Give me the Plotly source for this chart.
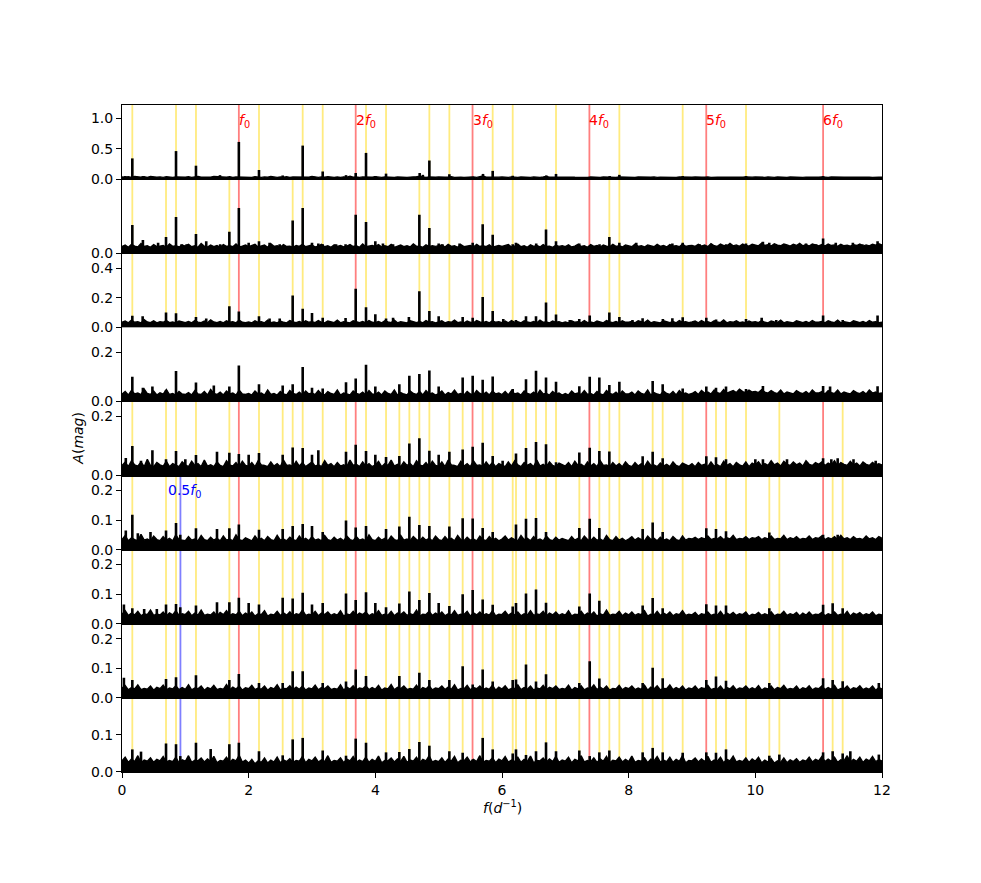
# amplitude spectra of 9 data segments, with the pulsation frequency f0, its harmonics
# and the combination frequencies marked as vertical lines

import numpy as np
import plotly.graph_objects as go
from plotly.subplots import make_subplots

# frequencies in d^-1
f0 = 1.845
harmonics = [1, 2, 3, 4, 5, 6]
harmonic_labels = ["<i>f</i><sub>0</sub>", "2<i>f</i><sub>0</sub>", "3<i>f</i><sub>0</sub>",
                   "4<i>f</i><sub>0</sub>", "5<i>f</i><sub>0</sub>", "6<i>f</i><sub>0</sub>"]
half_f0_panels = [6, 7, 8, 9]

# combination frequencies (yellow lines), panels share groups
yellow_a = [0.163, 0.853, 1.168, 2.163, 2.853, 3.169, 3.853, 4.169, 4.853, 5.169,
            5.853, 6.169, 6.853, 7.853, 8.853, 9.853]
yellow_b = [0.695, 1.695, 2.695, 4.695, 5.695, 6.695, 7.695]
yellow_c = [2.537, 3.537, 4.379, 4.537, 5.379, 6.379, 6.537, 7.537, 8.379, 8.537,
            9.379, 9.537, 10.379, 11.379]
yellow_d = [6.221, 7.221, 8.221, 10.221, 11.221]
panel_yellow = {
    1: yellow_a,
    2: yellow_a + yellow_b,
    3: yellow_a + yellow_b,
    4: yellow_a + yellow_b + yellow_c,
    5: yellow_a + yellow_b + yellow_c,
    6: yellow_a + yellow_b + yellow_c + yellow_d,
    7: yellow_a + yellow_b + yellow_c + yellow_d,
    8: yellow_a + yellow_b + yellow_c + yellow_d,
    9: yellow_a + yellow_b + yellow_c + yellow_d,
}

# y axis limits / tick values per panel (mag)
y_top = [1.216, 0.5, 0.5, 0.30, 0.25, 0.25, 0.25, 0.25, 0.20]
y_ticks = [[0, 0.5, 1.0], [0], [0, 0.2, 0.4], [0, 0.2], [0, 0.2],
           [0, 0.1, 0.2], [0, 0.1, 0.2], [0, 0.1, 0.2], [0, 0.1]]

# noise floor of each spectrum in mmag, read every 0.05 d^-1 from 0 to 12
noise_1 = [35, 30, 40, 28, 45, 32, 30, 38, 27, 42, 33, 30, 36, 28, 40, 31, 29, 37, 33, 30,
           30, 38, 28, 35, 42, 30, 27, 36, 31, 45, 40, 28, 33, 30, 38, 29, 35, 32, 28, 36,
           33, 29, 40, 31, 28, 36, 30, 42, 32, 28, 35, 30, 38, 27, 34, 31, 29, 37, 33, 30,
           45, 31, 28, 36, 30, 40, 32, 29, 35, 28, 37, 31, 46, 30, 34, 28, 36, 31, 29, 33,
           40, 30, 28, 35, 31, 38, 29, 34, 30, 36, 28, 33, 30, 38, 45, 32, 29, 35, 30, 31,
           36, 29, 33, 30, 38, 28, 35, 31, 29, 34, 30, 37, 28, 33, 50, 31, 29, 36, 30, 32,
           34, 30, 28, 36, 31, 29, 35, 30, 33, 28, 36, 31, 29, 34, 42, 30, 35, 28, 33, 30,
           35, 29, 33, 30, 28, 36, 31, 29, 34, 30, 33, 28, 35, 31, 38, 30, 29, 34, 31, 30,
           33, 30, 28, 35, 31, 29, 34, 30, 36, 28, 33, 31, 29, 35, 30, 28, 34, 31, 29, 33,
           31, 35, 29, 33, 30, 36, 28, 34, 31, 30, 35, 29, 33, 31, 28, 36, 30, 34, 29, 32,
           35, 30, 33, 29, 36, 31, 28, 34, 30, 33, 29, 35, 31, 30, 34, 28, 33, 30, 35, 29,
           33, 36, 30, 29, 35, 31, 28, 34, 30, 33, 29, 35, 30, 32, 28, 34, 31, 29, 35, 30, 30]
noise_2 = [45, 55, 40, 60, 48, 42, 65, 45, 50, 40, 58, 44, 48, 52, 40, 62, 46, 50, 42, 55,
           48, 60, 44, 50, 40, 66, 47, 42, 55, 45, 52, 40, 58, 46, 50, 44, 62, 42, 48, 55,
           44, 50, 60, 42, 48, 55, 40, 64, 46, 50, 42, 58, 45, 48, 40, 52, 46, 60, 44, 50,
           55, 42, 48, 60, 44, 50, 40, 56, 46, 52, 42, 48, 58, 45, 50, 40, 62, 44, 48, 52,
           46, 58, 42, 50, 44, 60, 40, 48, 55, 44, 50, 42, 62, 46, 48, 40, 56, 44, 50, 46,
           48, 55, 42, 60, 46, 50, 40, 58, 44, 48, 52, 42, 60, 45, 50, 44, 56, 40, 48, 52,
           46, 50, 58, 42, 48, 62, 44, 50, 40, 56, 46, 52, 42, 58, 45, 48, 40, 54, 46, 50,
           44, 56, 42, 48, 60, 45, 50, 40, 58, 46, 52, 42, 55, 48, 44, 60, 46, 50, 42, 56,
           48, 44, 62, 46, 50, 42, 56, 48, 44, 60, 46, 52, 42, 58, 48, 50, 44, 62, 46, 50,
           52, 46, 60, 48, 55, 44, 65, 50, 46, 62, 52, 48, 66, 50, 56, 46, 62, 52, 48, 60,
           55, 50, 68, 52, 58, 48, 64, 54, 50, 62, 56, 48, 60, 52, 66, 50, 58, 48, 62, 54,
           50, 58, 48, 62, 52, 56, 46, 60, 50, 54, 48, 58, 52, 62, 48, 56, 50, 60, 54, 64, 55]
noise_3 = [35, 42, 30, 48, 34, 38, 30, 52, 36, 32, 44, 30, 38, 34, 46, 32, 36, 30, 42, 35,
           32, 40, 30, 46, 35, 32, 42, 30, 50, 36, 32, 40, 30, 44, 34, 38, 30, 48, 34, 32,
           36, 30, 44, 34, 38, 30, 48, 32, 36, 30, 42, 34, 30, 46, 36, 32, 40, 30, 44, 34,
           38, 32, 46, 34, 30, 42, 36, 32, 48, 30, 38, 34, 30, 44, 36, 32, 40, 30, 46, 34,
           32, 40, 30, 44, 36, 32, 48, 30, 38, 34, 30, 44, 36, 32, 40, 30, 46, 34, 38, 30,
           36, 44, 30, 38, 34, 48, 32, 36, 30, 42, 34, 30, 46, 36, 32, 40, 30, 44, 34, 38,
           32, 42, 30, 46, 34, 38, 30, 44, 36, 32, 40, 30, 48, 34, 36, 30, 42, 34, 38, 30,
           36, 30, 44, 34, 38, 30, 46, 32, 36, 30, 42, 34, 30, 46, 36, 32, 40, 30, 44, 34,
           34, 40, 30, 44, 36, 32, 48, 30, 38, 34, 30, 44, 36, 32, 40, 30, 46, 34, 38, 32,
           36, 42, 30, 46, 34, 38, 30, 44, 36, 32, 50, 30, 38, 34, 44, 32, 36, 30, 42, 34,
           38, 32, 46, 34, 30, 42, 36, 32, 48, 30, 38, 34, 30, 44, 36, 32, 40, 30, 46, 34,
           34, 40, 30, 44, 36, 32, 48, 30, 38, 34, 30, 44, 36, 32, 40, 30, 46, 34, 38, 32, 34]
noise_4 = [30, 40, 26, 45, 30, 34, 28, 50, 32, 28, 42, 26, 35, 30, 48, 28, 32, 26, 40, 30,
           28, 36, 26, 44, 30, 28, 40, 26, 48, 32, 28, 38, 26, 42, 30, 34, 26, 46, 30, 28,
           32, 26, 42, 30, 34, 26, 46, 28, 32, 26, 40, 30, 26, 44, 32, 28, 38, 26, 42, 30,
           34, 28, 44, 30, 26, 40, 32, 28, 46, 26, 34, 30, 26, 42, 32, 28, 38, 26, 44, 30,
           28, 38, 26, 42, 32, 28, 46, 26, 36, 30, 26, 42, 32, 28, 40, 26, 44, 30, 34, 26,
           32, 42, 26, 36, 30, 46, 28, 32, 26, 40, 30, 26, 44, 32, 28, 38, 26, 42, 30, 34,
           28, 40, 26, 44, 30, 34, 26, 42, 32, 28, 38, 26, 46, 30, 32, 26, 40, 30, 34, 26,
           32, 26, 42, 30, 34, 28, 44, 28, 32, 26, 40, 30, 26, 44, 32, 28, 38, 26, 42, 30,
           30, 38, 26, 42, 32, 28, 46, 26, 36, 30, 26, 42, 32, 28, 40, 26, 44, 30, 34, 28,
           32, 40, 28, 44, 34, 38, 30, 46, 36, 32, 48, 34, 38, 44, 36, 50, 40, 36, 46, 38,
           40, 36, 48, 38, 34, 44, 36, 32, 46, 30, 38, 34, 30, 44, 36, 32, 40, 30, 46, 34,
           34, 40, 30, 44, 36, 32, 46, 30, 38, 34, 30, 44, 36, 32, 40, 30, 46, 34, 38, 32, 34]
noise_5 = [34, 45, 30, 50, 36, 32, 46, 30, 55, 34, 30, 44, 36, 32, 48, 30, 40, 34, 30, 46,
           36, 30, 48, 34, 40, 30, 52, 32, 36, 30, 46, 34, 30, 50, 36, 32, 44, 30, 48, 34,
           32, 44, 30, 50, 36, 34, 30, 46, 32, 40, 30, 52, 34, 36, 30, 48, 32, 44, 30, 38,
           46, 32, 36, 30, 50, 34, 40, 30, 44, 32, 36, 30, 52, 34, 38, 30, 46, 32, 40, 30,
           36, 48, 30, 40, 34, 52, 32, 38, 30, 46, 34, 40, 30, 50, 36, 32, 44, 30, 48, 34,
           32, 46, 30, 52, 36, 34, 30, 48, 32, 40, 30, 50, 34, 36, 30, 46, 32, 44, 30, 40,
           34, 30, 46, 32, 50, 36, 30, 44, 34, 40, 30, 52, 32, 38, 30, 46, 34, 30, 42, 36,
           32, 44, 30, 48, 34, 38, 30, 46, 32, 40, 30, 50, 34, 36, 30, 44, 32, 40, 30, 46,
           34, 30, 44, 32, 40, 30, 48, 34, 36, 30, 42, 32, 38, 30, 46, 34, 30, 42, 36, 32,
           40, 30, 44, 34, 38, 30, 46, 32, 36, 30, 48, 34, 40, 30, 44, 36, 32, 46, 30, 42,
           36, 46, 32, 40, 34, 50, 36, 42, 32, 48, 38, 34, 46, 36, 42, 32, 50, 38, 34, 44,
           38, 46, 34, 42, 36, 50, 32, 44, 38, 34, 48, 36, 42, 32, 46, 38, 34, 44, 36, 40, 36]
noise_6 = [34, 48, 30, 40, 34, 30, 52, 32, 36, 30, 46, 34, 30, 44, 32, 38, 30, 50, 34, 32,
           30, 44, 32, 36, 30, 48, 34, 30, 42, 32, 38, 30, 46, 32, 36, 30, 50, 34, 30, 40,
           34, 30, 46, 32, 38, 30, 44, 34, 30, 48, 32, 36, 30, 42, 34, 30, 46, 32, 38, 30,
           44, 32, 36, 30, 48, 34, 30, 42, 32, 38, 30, 46, 34, 30, 44, 32, 36, 30, 50, 34,
           30, 42, 32, 38, 30, 46, 34, 30, 48, 32, 36, 30, 44, 34, 30, 42, 32, 38, 30, 46,
           34, 30, 44, 32, 38, 30, 48, 34, 30, 42, 32, 36, 30, 46, 34, 30, 44, 32, 38, 30,
           36, 46, 32, 40, 34, 30, 48, 34, 38, 30, 44, 32, 36, 30, 46, 34, 30, 42, 32, 38,
           34, 30, 44, 32, 38, 30, 46, 34, 30, 42, 32, 36, 30, 48, 34, 30, 44, 32, 38, 30,
           36, 44, 32, 40, 34, 30, 46, 34, 38, 30, 42, 32, 36, 30, 44, 34, 30, 46, 32, 38,
           36, 42, 34, 40, 36, 46, 34, 38, 36, 44, 34, 40, 36, 48, 34, 38, 36, 44, 34, 40,
           38, 44, 34, 40, 36, 46, 34, 38, 36, 48, 34, 40, 36, 44, 34, 38, 36, 46, 34, 40,
           38, 46, 34, 40, 36, 44, 34, 48, 36, 40, 34, 44, 36, 38, 34, 46, 36, 40, 34, 44, 38]
noise_7 = [32, 44, 28, 36, 30, 42, 27, 34, 31, 46, 28, 33, 30, 40, 26, 37, 30, 44, 28, 34,
           31, 42, 27, 36, 29, 46, 28, 32, 30, 40, 26, 38, 31, 44, 28, 34, 30, 42, 27, 36,
           30, 40, 26, 34, 31, 44, 26, 32, 30, 42, 28, 37, 29, 40, 27, 34, 31, 46, 28, 32,
           30, 42, 27, 36, 31, 40, 28, 34, 29, 44, 26, 33, 30, 42, 28, 36, 31, 40, 27, 34,
           30, 44, 28, 32, 29, 42, 27, 36, 31, 40, 28, 34, 30, 46, 26, 32, 31, 42, 28, 36,
           30, 40, 27, 34, 29, 44, 28, 32, 31, 42, 26, 37, 30, 40, 28, 34, 29, 44, 27, 32,
           31, 42, 28, 36, 30, 40, 27, 34, 29, 44, 28, 33, 31, 42, 26, 36, 30, 40, 28, 34,
           29, 44, 27, 32, 31, 42, 28, 36, 30, 40, 26, 34, 29, 46, 28, 32, 31, 42, 27, 36,
           30, 40, 28, 34, 31, 44, 26, 32, 29, 42, 28, 36, 30, 40, 27, 34, 31, 44, 28, 32,
           30, 38, 26, 34, 31, 40, 28, 32, 29, 42, 27, 36, 30, 38, 28, 34, 31, 40, 26, 32,
           30, 38, 28, 34, 29, 40, 27, 32, 31, 42, 28, 34, 30, 38, 26, 36, 29, 40, 28, 32,
           31, 38, 27, 34, 30, 40, 28, 32, 29, 42, 26, 36, 31, 38, 28, 34, 30, 40, 27, 32, 30]
noise_8 = [33, 42, 27, 35, 30, 44, 28, 32, 29, 40, 26, 36, 31, 43, 27, 33, 30, 41, 28, 35,
           29, 44, 27, 33, 31, 40, 26, 35, 30, 42, 28, 32, 29, 45, 27, 36, 30, 40, 26, 34,
           31, 42, 28, 33, 29, 40, 26, 35, 30, 44, 27, 32, 31, 41, 28, 36, 29, 40, 26, 33,
           30, 43, 27, 35, 31, 40, 28, 32, 29, 44, 26, 36, 30, 41, 27, 33, 31, 40, 28, 35,
           29, 42, 26, 33, 30, 45, 27, 36, 31, 40, 28, 32, 29, 43, 26, 35, 30, 41, 27, 33,
           31, 40, 28, 36, 29, 44, 26, 32, 30, 42, 27, 35, 31, 40, 28, 33, 29, 43, 26, 36,
           30, 41, 27, 32, 31, 44, 28, 35, 29, 40, 26, 33, 30, 42, 27, 36, 31, 40, 28, 32,
           29, 43, 26, 35, 30, 41, 27, 33, 31, 44, 28, 36, 29, 40, 26, 32, 30, 42, 27, 35,
           31, 40, 28, 33, 29, 43, 26, 36, 30, 41, 27, 32, 31, 44, 28, 35, 29, 40, 26, 33,
           30, 40, 27, 34, 31, 42, 28, 32, 29, 40, 26, 35, 30, 41, 27, 33, 31, 40, 28, 34,
           29, 41, 26, 33, 30, 40, 27, 35, 31, 42, 28, 32, 29, 40, 26, 34, 30, 41, 27, 33,
           31, 40, 28, 35, 29, 42, 26, 32, 30, 40, 27, 34, 31, 41, 28, 33, 29, 40, 26, 35, 30]
noise_9 = [30, 40, 26, 35, 28, 44, 25, 32, 29, 38, 26, 34, 30, 42, 27, 31, 28, 40, 25, 33,
           29, 44, 26, 32, 30, 38, 27, 35, 28, 42, 25, 31, 29, 40, 26, 34, 30, 45, 27, 32,
           24, 34, 22, 30, 26, 38, 24, 32, 27, 40, 25, 33, 28, 36, 26, 31, 29, 42, 25, 34,
           30, 40, 27, 33, 28, 44, 26, 31, 29, 38, 25, 35, 30, 42, 27, 32, 28, 40, 26, 34,
           29, 43, 25, 31, 30, 38, 27, 35, 28, 42, 26, 32, 29, 40, 25, 34, 30, 44, 27, 31,
           28, 38, 26, 35, 29, 42, 25, 32, 30, 40, 27, 34, 28, 44, 26, 31, 29, 38, 25, 35,
           30, 42, 27, 32, 28, 40, 26, 34, 29, 43, 25, 31, 30, 38, 27, 35, 28, 42, 26, 32,
           29, 40, 25, 34, 30, 44, 27, 31, 28, 38, 26, 35, 29, 42, 25, 32, 30, 40, 27, 34,
           28, 43, 26, 31, 29, 38, 25, 35, 30, 42, 27, 32, 28, 40, 26, 34, 29, 44, 25, 31,
           30, 38, 27, 35, 28, 42, 26, 32, 29, 40, 25, 34, 30, 43, 27, 31, 28, 38, 26, 35,
           29, 40, 25, 32, 27, 36, 24, 30, 26, 38, 25, 33, 28, 36, 26, 32, 29, 40, 27, 34,
           30, 42, 28, 35, 29, 40, 26, 33, 30, 44, 27, 34, 29, 40, 26, 35, 30, 42, 28, 33, 30]

# peaks (frequency, amplitude in mag)
peaks_1 = [(0.163, 0.34), (0.853, 0.46), (1.168, 0.22), (1.845, 0.61), (2.163, 0.15),
           (2.853, 0.55), (3.169, 0.125), (3.69, 0.10), (3.853, 0.43), (4.169, 0.09),
           (4.70, 0.10), (4.853, 0.305), (5.169, 0.08), (5.70, 0.085), (5.853, 0.135),
           (6.169, 0.055), (6.70, 0.06), (6.853, 0.085), (7.853, 0.07), (1.547, 0.065),
           (2.537, 0.06), (3.0, 0.05), (3.537, 0.065), (4.0, 0.05), (4.75, 0.07),
           (0.05, 0.05), (0.33, 0.05), (7.70, 0.05), (8.853, 0.05), (9.853, 0.05),
           (11.07, 0.05)]
peaks_2 = [(0.163, 0.19), (0.33, 0.09), (0.57, 0.07), (0.695, 0.11), (0.853, 0.245),
           (0.94, 0.06), (1.02, 0.06), (1.168, 0.13), (1.33, 0.08), (1.55, 0.06),
           (1.695, 0.145), (1.845, 0.305), (2.0, 0.07), (2.163, 0.08), (2.33, 0.07),
           (2.49, 0.06), (2.695, 0.22), (2.853, 0.305), (3.0, 0.07), (3.1, 0.065),
           (3.169, 0.06), (3.38, 0.06), (3.53, 0.06), (3.69, 0.26), (3.853, 0.21),
           (4.0, 0.08), (4.12, 0.065), (4.28, 0.06), (4.695, 0.26), (4.853, 0.17),
           (5.0, 0.065), (5.06, 0.06), (5.33, 0.065), (5.537, 0.07), (5.695, 0.195),
           (5.853, 0.125), (6.169, 0.06), (6.22, 0.07), (6.54, 0.065), (6.695, 0.16),
           (6.853, 0.08), (7.22, 0.065), (7.54, 0.06), (7.695, 0.11), (7.853, 0.07),
           (8.12, 0.07), (8.69, 0.065), (8.853, 0.07), (9.12, 0.06), (9.54, 0.06),
           (9.853, 0.065), (10.12, 0.078), (10.22, 0.07), (10.8, 0.065), (10.96, 0.06),
           (11.07, 0.10), (11.27, 0.07), (11.54, 0.07), (11.69, 0.06), (11.93, 0.08)]
peaks_3 = [(0.163, 0.078), (0.326, 0.075), (0.695, 0.10), (0.853, 0.095), (1.168, 0.07),
           (1.33, 0.06), (1.695, 0.143), (1.845, 0.107), (2.163, 0.075), (2.33, 0.06),
           (2.49, 0.06), (2.695, 0.214), (2.853, 0.125), (3.0, 0.097), (3.169, 0.065),
           (3.53, 0.063), (3.69, 0.26), (3.853, 0.136), (4.0, 0.088), (4.169, 0.06),
           (4.28, 0.065), (4.53, 0.07), (4.695, 0.244), (4.853, 0.111), (5.0, 0.074),
           (5.379, 0.07), (5.537, 0.064), (5.695, 0.205), (5.853, 0.11), (6.02, 0.057),
           (6.22, 0.05), (6.379, 0.075), (6.537, 0.075), (6.695, 0.167), (6.853, 0.086),
           (7.07, 0.05), (7.22, 0.057), (7.385, 0.08), (7.695, 0.10), (7.853, 0.07),
           (8.06, 0.05), (8.22, 0.062), (8.54, 0.057), (8.69, 0.062), (8.853, 0.068),
           (9.226, 0.064), (9.38, 0.052), (9.853, 0.057), (10.1, 0.064), (10.33, 0.05),
           (11.07, 0.08), (11.38, 0.05), (11.93, 0.08)]
peaks_4 = [(0.163, 0.10), (0.33, 0.055), (0.48, 0.06), (0.695, 0.045), (0.853, 0.123),
           (1.168, 0.077), (1.45, 0.065), (1.695, 0.06), (1.845, 0.145), (2.163, 0.07),
           (2.537, 0.065), (2.695, 0.07), (2.853, 0.139), (3.0, 0.055), (3.169, 0.052),
           (3.537, 0.078), (3.69, 0.093), (3.853, 0.149), (4.0, 0.06), (4.379, 0.07),
           (4.537, 0.104), (4.695, 0.111), (4.853, 0.125), (5.0, 0.06), (5.379, 0.097),
           (5.537, 0.104), (5.695, 0.088), (5.853, 0.101), (6.169, 0.05), (6.379, 0.09),
           (6.537, 0.124), (6.695, 0.097), (6.853, 0.08), (7.221, 0.061), (7.385, 0.10),
           (7.537, 0.097), (7.695, 0.067), (7.853, 0.08), (8.379, 0.083), (8.537, 0.07),
           (8.853, 0.052), (9.226, 0.06), (9.379, 0.055), (9.537, 0.06), (9.853, 0.05),
           (10.12, 0.063), (11.07, 0.063), (11.18, 0.06), (11.93, 0.061)]
peaks_5 = [(0.06, 0.059), (0.163, 0.10), (0.3, 0.05), (0.48, 0.085), (0.695, 0.055),
           (0.853, 0.083), (1.0, 0.055), (1.168, 0.069), (1.5, 0.08), (1.695, 0.077),
           (1.845, 0.073), (2.0, 0.07), (2.163, 0.076), (2.537, 0.07), (2.695, 0.095),
           (2.853, 0.093), (3.0, 0.07), (3.1, 0.085), (3.537, 0.08), (3.69, 0.104),
           (3.853, 0.083), (4.0, 0.07), (4.169, 0.063), (4.379, 0.066), (4.537, 0.108),
           (4.695, 0.126), (4.853, 0.084), (5.0, 0.07), (5.169, 0.08), (5.379, 0.088),
           (5.537, 0.097), (5.695, 0.111), (5.853, 0.066), (6.01, 0.05), (6.221, 0.074),
           (6.379, 0.093), (6.537, 0.113), (6.695, 0.106), (6.853, 0.045), (7.221, 0.078),
           (7.385, 0.094), (7.537, 0.083), (7.695, 0.081), (8.221, 0.065), (8.379, 0.08),
           (8.537, 0.058), (9.226, 0.065), (9.379, 0.062), (9.537, 0.055), (10.0, 0.055),
           (10.12, 0.055), (10.5, 0.055), (11.07, 0.058), (11.2, 0.055), (11.3, 0.058),
           (11.55, 0.055), (11.9, 0.05)]
peaks_6 = [(0.06, 0.065), (0.163, 0.118), (0.25, 0.055), (0.45, 0.06), (0.695, 0.065),
           (0.853, 0.09), (0.92, 0.05), (1.168, 0.072), (1.5, 0.07), (1.695, 0.072),
           (1.845, 0.085), (2.163, 0.067), (2.537, 0.07), (2.695, 0.08), (2.853, 0.087),
           (3.0, 0.08), (3.169, 0.06), (3.537, 0.098), (3.69, 0.075), (3.853, 0.08),
           (4.169, 0.07), (4.379, 0.078), (4.537, 0.111), (4.695, 0.083), (4.853, 0.08),
           (5.169, 0.078), (5.379, 0.106), (5.537, 0.105), (5.695, 0.073), (5.853, 0.06),
           (6.221, 0.085), (6.379, 0.104), (6.537, 0.107), (6.695, 0.06), (7.221, 0.073),
           (7.385, 0.104), (7.537, 0.073), (8.221, 0.07), (8.379, 0.092), (8.537, 0.06),
           (9.226, 0.072), (9.379, 0.07), (9.537, 0.062), (10.221, 0.058), (11.07, 0.05),
           (11.3, 0.05)]
peaks_7 = [(0.03, 0.065), (0.163, 0.052), (0.35, 0.05), (0.55, 0.05), (0.695, 0.065),
           (0.853, 0.067), (0.92, 0.056), (1.168, 0.062), (1.5, 0.073), (1.695, 0.073),
           (1.845, 0.088), (2.0, 0.07), (2.163, 0.065), (2.537, 0.088), (2.695, 0.085),
           (2.853, 0.105), (3.0, 0.065), (3.169, 0.07), (3.537, 0.102), (3.69, 0.08),
           (3.853, 0.106), (4.0, 0.07), (4.169, 0.056), (4.379, 0.068), (4.537, 0.109),
           (4.695, 0.08), (4.853, 0.104), (5.0, 0.07), (5.169, 0.06), (5.379, 0.10),
           (5.537, 0.114), (5.695, 0.082), (5.853, 0.064), (6.169, 0.058), (6.221, 0.07),
           (6.379, 0.102), (6.537, 0.116), (6.695, 0.071), (7.221, 0.058), (7.385, 0.102),
           (7.537, 0.078), (8.221, 0.062), (8.379, 0.087), (8.537, 0.052), (9.226, 0.066),
           (9.379, 0.062), (9.537, 0.062), (10.221, 0.052), (11.07, 0.064), (11.221, 0.069),
           (11.379, 0.052)]
peaks_8 = [(0.03, 0.068), (0.163, 0.06), (0.695, 0.064), (0.853, 0.07), (1.168, 0.076),
           (1.695, 0.06), (1.845, 0.081), (2.163, 0.05), (2.537, 0.05), (2.695, 0.09),
           (2.853, 0.09), (3.169, 0.05), (3.537, 0.055), (3.69, 0.096), (3.853, 0.074),
           (4.379, 0.074), (4.695, 0.085), (4.853, 0.06), (5.169, 0.06), (5.379, 0.107),
           (5.537, 0.045), (5.695, 0.096), (5.853, 0.055), (6.169, 0.06), (6.221, 0.062),
           (6.379, 0.113), (6.537, 0.055), (6.695, 0.08), (7.221, 0.05), (7.385, 0.124),
           (7.537, 0.065), (8.221, 0.05), (8.379, 0.102), (8.537, 0.066), (9.226, 0.06),
           (9.379, 0.072), (9.537, 0.058), (10.221, 0.05), (11.07, 0.066), (11.221, 0.06),
           (11.379, 0.056), (11.95, 0.05)]
peaks_9 = [(0.163, 0.061), (0.3, 0.055), (0.695, 0.077), (0.853, 0.075), (0.92, 0.043),
           (1.168, 0.079), (1.4, 0.062), (1.695, 0.075), (1.845, 0.079), (2.163, 0.056),
           (2.537, 0.045), (2.695, 0.088), (2.853, 0.092), (3.169, 0.058), (3.537, 0.044),
           (3.69, 0.09), (3.853, 0.079), (4.169, 0.053), (4.379, 0.054), (4.537, 0.062),
           (4.695, 0.081), (4.853, 0.071), (5.169, 0.056), (5.379, 0.052), (5.537, 0.034),
           (5.695, 0.092), (5.853, 0.061), (6.169, 0.05), (6.221, 0.061), (6.379, 0.046),
           (6.537, 0.056), (6.695, 0.08), (6.853, 0.056), (7.221, 0.058), (7.385, 0.043),
           (7.537, 0.053), (7.695, 0.058), (8.221, 0.053), (8.379, 0.065), (8.537, 0.053),
           (8.853, 0.052), (9.226, 0.053), (9.379, 0.052), (9.537, 0.061), (10.221, 0.044),
           (10.379, 0.047), (11.07, 0.053), (11.221, 0.056), (11.379, 0.05), (11.5, 0.056),
           (11.95, 0.047)]

noise_all = [noise_1, noise_2, noise_3, noise_4, noise_5, noise_6, noise_7, noise_8, noise_9]
peaks_all = [peaks_1, peaks_2, peaks_3, peaks_4, peaks_5, peaks_6, peaks_7, peaks_8, peaks_9]

n_panels = 9
fig = make_subplots(rows=n_panels, cols=1, shared_xaxes=True, vertical_spacing=0)

FONT = "DejaVu Sans"
RED = "rgba(255,0,0,0.5)"
YELLOW = "rgba(255,215,0,0.5)"
BLUE = "rgba(0,0,255,0.5)"

for k in range(1, n_panels + 1):
    xref = "x" if k == 1 else f"x{k}"
    yref = "y" if k == 1 else f"y{k}"

    # vertical marker lines (below the spectrum)
    for f in panel_yellow[k]:
        fig.add_shape(type="line", x0=f, x1=f, y0=0, y1=1, xref=xref, yref=f"{yref} domain",
                      line=dict(color=YELLOW, width=1.8), layer="below")
    for h in harmonics:
        fig.add_shape(type="line", x0=h * f0, x1=h * f0, y0=0, y1=1, xref=xref,
                      yref=f"{yref} domain", line=dict(color=RED, width=1.8), layer="below")
    if k in half_f0_panels:
        fig.add_shape(type="line", x0=0.5 * f0, x1=0.5 * f0, y0=0, y1=1, xref=xref,
                      yref=f"{yref} domain", line=dict(color=BLUE, width=1.8), layer="below")

    # noise floor as a filled black curve (mmag -> mag)
    noise = np.array(noise_all[k - 1]) / 1000.0
    freq = np.linspace(0, 12, len(noise))
    fig.add_trace(go.Scatter(x=freq, y=noise, mode="lines", fill="tozeroy",
                             fillcolor="black", line=dict(color="black", width=1.4),
                             hoverinfo="skip", showlegend=False), row=k, col=1)

    # peaks as narrow stems
    xs, ys = [], []
    for f, a in peaks_all[k - 1]:
        xs += [f, f, None]
        ys += [0, a, None]
    fig.add_trace(go.Scatter(x=xs, y=ys, mode="lines", line=dict(color="black", width=2.6),
                             hoverinfo="skip", showlegend=False), row=k, col=1)

    fig.update_yaxes(range=[0, y_top[k - 1]], tickvals=y_ticks[k - 1], tickformat=".1f",
                     showline=True, mirror=True, linecolor="black", linewidth=1,
                     ticks="outside", ticklen=5, tickwidth=1, tickcolor="black",
                     showgrid=False, zeroline=False,
                     tickfont=dict(family=FONT, size=14, color="black"), row=k, col=1)
    fig.update_xaxes(range=[0, 12], showline=True, mirror=True, linecolor="black", linewidth=1,
                     showgrid=False, zeroline=False, row=k, col=1)

fig.update_xaxes(tickvals=[0, 2, 4, 6, 8, 10, 12], ticks="outside", ticklen=5, tickwidth=1,
                 tickcolor="black", tickfont=dict(family=FONT, size=14, color="black"),
                 row=n_panels, col=1)

# harmonic labels in the top panel
for h, lab in zip(harmonics, harmonic_labels):
    fig.add_annotation(x=h * f0, y=0.955, xref="x", yref="y", text=lab, showarrow=False,
                       xanchor="left", yanchor="middle", xshift=-2,
                       font=dict(family=FONT, size=14, color="red"))
# half f0 label
fig.add_annotation(x=0.731, y=0.198, xref="x6", yref="y6", text="0.5<i>f</i><sub>0</sub>",
                   showarrow=False, xanchor="left", yanchor="middle", xshift=-2,
                   font=dict(family=FONT, size=14, color="blue"))

# axis titles
fig.add_annotation(x=-0.059, y=0.5, xref="paper", yref="paper", text="<i>A</i>(<i>mag</i>)",
                   textangle=-90, showarrow=False, xanchor="center", yanchor="middle",
                   font=dict(family=FONT, size=14, color="black"))
fig.add_annotation(x=0.5, y=-0.053, xref="paper", yref="paper",
                   text="<i>f</i>(<i>d</i><sup>\u22121</sup>)", showarrow=False,
                   xanchor="center", yanchor="middle",
                   font=dict(family=FONT, size=14, color="black"))

# page body has an 8 px margin, so the figure is offset by that amount
fig.update_layout(width=965, height=867, margin=dict(l=114, r=91, t=97, b=102.5),
                  plot_bgcolor="white", paper_bgcolor="white", showlegend=False)

fig.write_html("out.html")
